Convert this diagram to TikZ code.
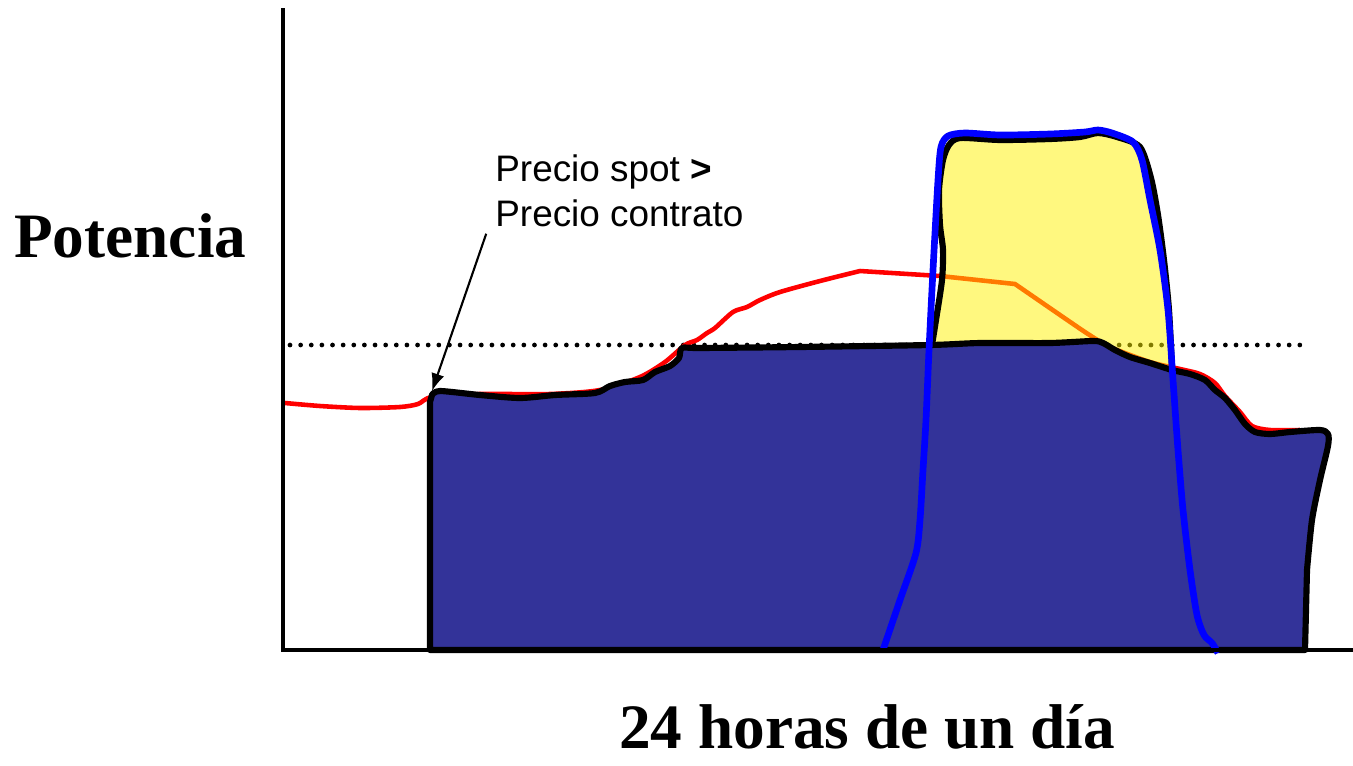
\documentclass[tikz,border=0pt]{standalone}
\usepackage{fontspec}
\setmainfont{Liberation Serif}
\newfontfamily\arialfont{Liberation Sans}
\usepackage{xcolor}
\usepackage{tikz}
\usetikzlibrary{arrows.meta}
\definecolor{demanda}{RGB}{51,51,153}
\definecolor{azul}{RGB}{0,0,255}

\begin{document}
\begin{tikzpicture}[x=0.02cm,y=-0.02cm,
	contorno/.style={line width=3.5pt,line join=round,black},
	etiqueta/.style={font=\arialfont\fontsize{21}{25}\selectfont,inner sep=0pt,anchor=base west},
	titulo/.style={font=\fontsize{36}{40}\selectfont\bfseries,inner sep=0pt}]
	\useasboundingbox (0,0) rectangle (1353,765);
	% contract price level
	\draw[line width=2.7pt,dash pattern=on 0pt off 6.05pt,line cap=round] (290,345) -- (1300,345);
	% spot price
	\draw[red,line width=2.6pt,line join=round] plot[smooth,tension=0.45] coordinates {(285,403) (320,406) (360,408) (400,407) (418,404) (432,397) (480,394) (550,394) (600,390) (640,377) (665,362) (685,345) (697,340) (707,333) (715,328) (733,312) (747,307) (760,300) (780,292) (820,281) (860,271)}
		-- (940,276) -- (1015,284) -- plot[smooth,tension=0.45] coordinates {(1015,284) (1060,315) (1088,334) (1110,347) (1150,362) (1180,369) (1200,374) (1215,383) (1225,396) (1240,412) (1252,426) (1270,430) (1300,430)};
	% demand
	\fill[demanda,save path=\demandapath] (430,650) -- (430,402) -- plot[smooth,tension=0.45] coordinates {(432,395) (440,391) (480,395) (520,398) (555,395) (595,393) (610,386) (625,382) (643,380) (655,372) (670,366) (679,358) (682,348) (700,348) (800,347) (930,345) (980,343) (1050,343) (1093,341) (1103,343) (1115,350) (1130,357) (1150,363) (1172,370) (1190,374) (1205,380) (1215,390) (1225,398) (1235,410) (1245,424) (1255,432) (1270,434) (1290,432) (1320,430) (1328,434) (1328,446) (1320,480) (1312,520) (1307,570)} -- (1305,650) -- cycle;
	\fill[yellow,opacity=0.5] plot[smooth,tension=0.45] coordinates {(932,345) (936,320) (942,280) (943,250) (940,225) (939,190) (943,160) (949,145) (960,138) (1000,140) (1050,139) (1080,137) (1098,133) (1117,137) (1140,147) (1151,178) (1158,215) (1164,260) (1169,310) (1172,368)}
		-- plot[smooth,tension=0.45] coordinates {(1172,370) (1150,363) (1130,357) (1115,350) (1103,343) (1093,341) (1050,343) (980,343) (932,345)} -- cycle;
	\draw[contorno,use path=\demandapath];
	\draw[contorno] plot[smooth,tension=0.45] coordinates {(932,345) (936,320) (942,280) (943,250) (940,225) (939,190) (943,160) (949,145) (960,138) (1000,140) (1050,139) (1080,137) (1098,133) (1117,137) (1140,147) (1151,178) (1158,215) (1164,260) (1169,310) (1172,368)};
	% generation
	\draw[azul,line width=3.8pt,line join=round] plot[smooth,tension=0.45] coordinates {(883,650) (900,600) (916,553) (920,520) (923,470) (926,420) (929,350) (933,270) (938,180) (941,147) (948,136) (965,133) (1000,135) (1050,134) (1085,132) (1098,130) (1112,133) (1133,142) (1142,160) (1150,200) (1160,250) (1168,310) (1173,380) (1178,450) (1183,510) (1190,570) (1197,615) (1204,635) (1212,643) (1218,653)};
	% axes
	\draw[line width=2.5pt] (283,8) -- (283,650) -- (1353,650);
	% labels
	\node[titulo,anchor=base west] (potencia) at (14,257) {Potencia};
	\node[titulo,anchor=base] (horas) at (867,748) {24 horas de un día};
	\node[etiqueta] (spot) at (495,181) {Precio spot \textbf{>}};
	\node[etiqueta] (contrato) at (495,226) {Precio contrato};
	\coordinate (inicio) at (432,391);
	\draw[line width=1.2pt,-{Latex[length=10pt,width=7.5pt]}] ([xshift=-5pt,yshift=-4pt]contrato.south west) -- (inicio);
\end{tikzpicture}
\end{document}
